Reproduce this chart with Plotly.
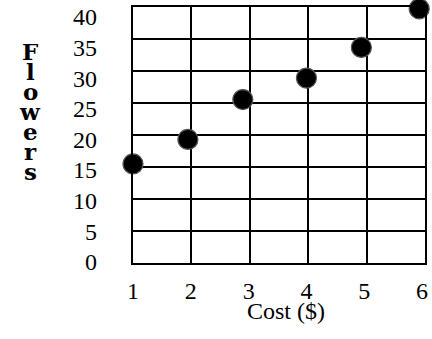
import plotly.graph_objects as go

# Data
cost = [1.0, 1.95, 2.9, 4.0, 4.95, 5.95]
flowers = [16, 20, 26.5, 30, 35, 41.3]

x_ticks = [1, 2, 3, 4, 5, 6]
y_ticks = [0, 5, 10, 15, 20, 25, 30, 35, 40]
y_title = "Flowers"
x_title = "Cost ($)"

W, H = 432, 339
ML, MR, MT, MB = 133, 7, 7, 76
PW, PH = W - ML - MR, H - MT - MB

def px_to_paper_x(px):
    return (px - ML) / PW

def px_to_paper_y(py):
    return 1 - (py - MT) / PH

fig = go.Figure()

# invisible trace on the overlay grid axes
fig.add_trace(go.Scatter(x=[0, 5], y=[0, 8], xaxis="x2", yaxis="y2",
                         mode="markers", marker=dict(opacity=0),
                         hoverinfo="skip", showlegend=False))

fig.add_trace(go.Scatter(
    x=cost, y=flowers, mode="markers",
    marker=dict(size=20, color="black", line=dict(color="#555", width=1.2)),
    cliponaxis=False, showlegend=False))

font_serif = "Liberation Serif, Times New Roman, serif"

fig.update_layout(
    width=W, height=H,
    margin=dict(l=ML, r=MR, t=MT, b=MB, autoexpand=False),
    paper_bgcolor="white", plot_bgcolor="white",
    font=dict(family=font_serif, size=24, color="black"),
    xaxis=dict(range=[1, 6.05], tickvals=x_ticks, showgrid=False,
               zeroline=False, showline=False, ticks="",
               ticklabelstandoff=11, automargin=False),
    yaxis=dict(range=[-0.16, 41.6], tickvals=y_ticks, showgrid=False,
               zeroline=False, showline=False, ticks="",
               ticklabelstandoff=35, automargin=False),
    xaxis2=dict(overlaying="x", range=[0, 5], dtick=1, showgrid=True,
                gridcolor="black", gridwidth=2, showticklabels=False,
                zeroline=False, showline=True, mirror=True,
                linecolor="black", linewidth=2, ticks="", automargin=False),
    yaxis2=dict(overlaying="y", range=[0, 8], dtick=1, showgrid=True,
                gridcolor="black", gridwidth=2, showticklabels=False,
                zeroline=False, showline=True, mirror=True,
                linecolor="black", linewidth=2, ticks="", automargin=False),
)

# x-axis title
fig.add_annotation(text=x_title, x=px_to_paper_x(286), xref="paper",
                   y=px_to_paper_y(311), yref="paper",
                   xanchor="center", yanchor="middle", showarrow=False,
                   font=dict(family=font_serif, size=24, color="black"))

# stacked vertical title letters
for i, ch in enumerate(y_title):
    base_px = 58 + 20 * i          # baseline (px from top)
    fig.add_annotation(text="<b>" + ch + "</b>", x=px_to_paper_x(30), xref="paper",
                       y=px_to_paper_y(base_px - 7), yref="paper",
                       xanchor="center", yanchor="middle", showarrow=False,
                       font=dict(family="DejaVu Serif", size=23, color="black"))

fig.write_html("out.html", config={"displayModeBar": False},
               post_script="document.body.style.margin='0';document.body.style.overflow='hidden';")
